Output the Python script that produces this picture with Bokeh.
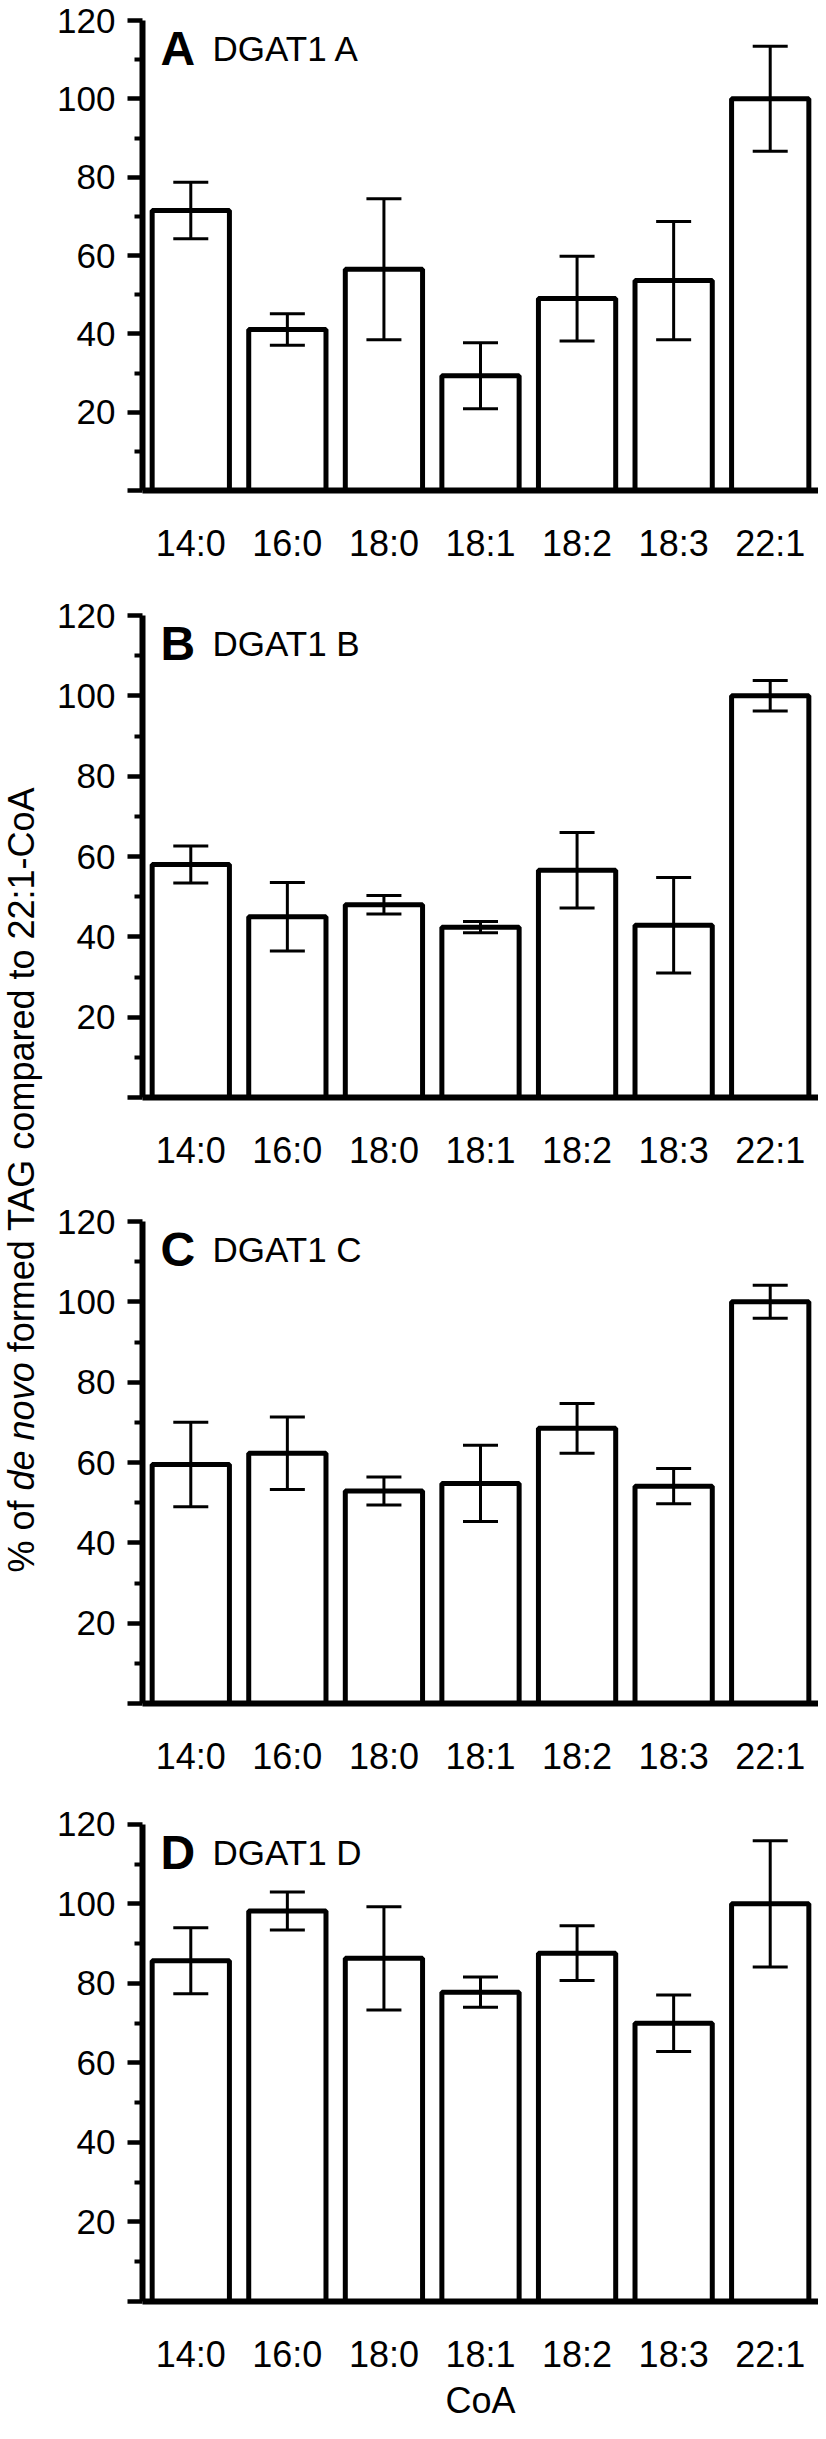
import numpy as np
from bokeh.plotting import figure
from bokeh.models import (ColumnDataSource, FactorRange, Range1d, FixedTicker,
                          Whisker, TeeHead, Label)
from bokeh.layouts import row, column
from bokeh.embed import file_html
from bokeh.resources import INLINE
from bokeh.core.properties import value

# ---------------- data ----------------
categories = ["14:0", "16:0", "18:0", "18:1", "18:2", "18:3", "22:1"]
panel_letters = ["A", "B", "C", "D"]
panel_titles = ["DGAT1 A", "DGAT1 B", "DGAT1 C", "DGAT1 D"]

mean_a = [71.5, 41.1, 56.5, 29.3, 49.0, 53.6, 100.0]
err_a = [7.2, 4.0, 18.0, 8.4, 10.8, 15.1, 13.4]
mean_b = [58.0, 45.0, 48.0, 42.4, 56.6, 42.9, 100.0]
err_b = [4.6, 8.5, 2.3, 1.4, 9.4, 11.9, 3.8]
mean_c = [59.5, 62.3, 52.9, 54.8, 68.5, 54.1, 100.0]
err_c = [10.5, 9.0, 3.5, 9.5, 6.2, 4.4, 4.1]
mean_d = [85.7, 98.2, 86.3, 77.8, 87.6, 70.0, 100.0]
err_d = [8.3, 4.8, 13.0, 3.8, 6.9, 7.1, 15.9]

y_ticks = [0, 20, 40, 60, 80, 100, 120]
y_minor_ticks = [10, 30, 50, 70, 90, 110]
x_title = "CoA"
y_title_1 = "% of"
y_title_2 = "de novo"
y_title_3 = "formed TAG compared to 22:1-CoA"

FONT = "Liberation Sans"
Y_TOP = 120

means = [mean_a, mean_b, mean_c, mean_d]
errs = [err_a, err_b, err_c, err_d]

# layout (pixels)
heights = [593, 606, 603, 621]
tops = [4, 6, 6, 6]
spans = [470, 482, 482, 482]     # pixels from 0 to 120
EXT = 16                         # frame space above the 120 level
PANEL_W = 772
LEFT = 96

panels = []
for i in range(4):
    m = means[i]
    e = errs[i]
    src = ColumnDataSource(dict(
        cat=categories, mean=m,
        upper=[a + b for a, b in zip(m, e)],
        lower=[a - b for a, b in zip(m, e)],
    ))
    h = heights[i]
    span = spans[i]
    frame_h = span + EXT
    ppu = span / Y_TOP
    y_end = Y_TOP + EXT / ppu
    p = figure(width=PANEL_W, height=h,
               x_range=FactorRange(factors=categories, range_padding=0),
               y_range=Range1d(0, y_end),
               toolbar_location=None, output_backend="svg",
               min_border_left=LEFT, min_border_right=0,
               min_border_top=tops[i], min_border_bottom=h - tops[i] - frame_h,
               outline_line_color=None, background_fill_color="white",
               border_fill_color="white")
    p.grid.visible = False

    p.vbar(x="cat", top="mean", bottom=0, width=0.8, source=src,
           fill_color="white", line_color="black", line_width=5)

    w = Whisker(source=src, base="cat", upper="upper", lower="lower",
                line_color="black", line_width=3, level="overlay",
                upper_head=TeeHead(size=35, line_color="black", line_width=3),
                lower_head=TeeHead(size=35, line_color="black", line_width=3))
    p.add_layout(w)

    # y axis
    yax = p.yaxis[0]
    yax.bounds = (0, Y_TOP)
    yax.ticker = FixedTicker(ticks=y_ticks, minor_ticks=y_minor_ticks)
    yax.major_label_overrides = {0: ""}
    yax.axis_line_width = 6
    yax.axis_line_color = "black"
    yax.major_tick_line_width = 4.5
    yax.major_tick_out = 15
    yax.major_tick_in = 0
    yax.minor_tick_line_width = 4
    yax.minor_tick_out = 8
    yax.minor_tick_in = 0
    yax.major_label_text_font = FONT
    yax.major_label_text_font_size = "35px"
    yax.major_label_text_color = "black"
    yax.major_label_standoff = 12

    # x axis
    xax = p.xaxis[0]
    xax.axis_line_width = 6
    xax.axis_line_color = "black"
    xax.major_tick_line_color = None
    xax.major_tick_out = 0
    xax.major_tick_in = 0
    xax.minor_tick_line_color = None
    xax.major_label_text_font = FONT
    xax.major_label_text_font_size = "36px"
    xax.major_label_text_color = "black"
    xax.major_label_standoff = 32
    if i == 3:
        xax.axis_label = x_title
        xax.axis_label_text_font = FONT
        xax.axis_label_text_font_size = "36px"
        xax.axis_label_text_font_style = "normal"
        xax.axis_label_text_color = "black"
        xax.axis_label_standoff = 2

    y_lab = Y_TOP - 28 / ppu
    p.add_layout(Label(x=0.187, y=y_lab, text=panel_letters[i], text_font=FONT,
                       text_font_style="bold", text_font_size="48px",
                       text_baseline="alphabetic", text_align="left",
                       text_color="black"))
    p.add_layout(Label(x=0.725, y=y_lab, text=panel_titles[i], text_font=FONT,
                       text_font_size="35px", text_baseline="alphabetic",
                       text_align="left", text_color="black"))
    panels.append(p)

# ---------------- rotated y title ----------------
TOTAL_H = sum(heights)
LAB_W = 46
lab = figure(width=LAB_W, height=TOTAL_H, x_range=Range1d(0, LAB_W),
             y_range=Range1d(0, TOTAL_H), toolbar_location=None,
             output_backend="svg", min_border=0, outline_line_color=None)
lab.axis.visible = False
lab.grid.visible = False

def py(page_y):
    return TOTAL_H - (page_y - 8)

start = 1580
fs = 36
w1 = (0.889 + 0.278 + 0.556 + 0.278 + 0.278) * fs
w2 = (0.556 * 2 + 0.278 + 0.556 * 2 + 0.5 + 0.556 + 0.278) * fs
mid_x = 21
lab.text(x=[mid_x], y=[py(start)], text=[y_title_1], angle=np.pi / 2,
         text_font=value(FONT), text_font_size=value("36px"),
         text_baseline="middle", text_align="left", text_color="black")
lab.text(x=[mid_x], y=[py(start - w1)], text=[y_title_2], angle=np.pi / 2,
         text_font=value(FONT), text_font_size=value("36px"),
         text_font_style="italic",
         text_baseline="middle", text_align="left", text_color="black")
lab.text(x=[mid_x], y=[py(start - w1 - w2)], text=[y_title_3], angle=np.pi / 2,
         text_font=value(FONT), text_font_size=value("36px"),
         text_baseline="middle", text_align="left", text_color="black")

layout = row(lab, column(*panels, spacing=0), spacing=0)

open("out.html", "w").write(file_html(layout, INLINE))
